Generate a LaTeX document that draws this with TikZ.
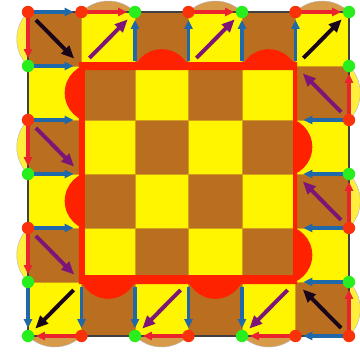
\documentclass[tikz,border=0pt]{standalone}
\usepackage{tikz}
\usetikzlibrary{positioning, arrows.meta, calc}

\definecolor{tilebrown}{RGB}{186,110,32}
\definecolor{tileyellow}{RGB}{255,245,0}
\definecolor{tileline}{RGB}{212,158,24}
\definecolor{bumptan}{RGB}{214,154,72}
\definecolor{bumpyellow}{RGB}{255,238,60}
\definecolor{framered}{RGB}{255,34,0}
\definecolor{dotred}{RGB}{250,50,10}
\definecolor{dotgreen}{RGB}{40,238,30}
\definecolor{edgeblue}{RGB}{31,104,170}
\definecolor{edgered}{RGB}{235,35,45}
\definecolor{diagpurple}{RGB}{125,20,120}
\definecolor{diagblack}{RGB}{25,5,25}

\begin{document}
\begin{tikzpicture}[
    x=1.3375cm, y=1.35cm,
    browntile/.style={fill=tilebrown, draw=tileline, line width=0.5pt},
    yellowtile/.style={fill=tileyellow, draw=tileline, line width=0.5pt},
    bump/.style={draw=gray!55, line width=0.3pt},
    edgeb/.style={draw=edgeblue, line width=2.2pt, -{Triangle[length=0.22cm, width=0.2cm]},
        shorten <=0.12cm, shorten >=0.2cm},
    edger/.style={edgeb, draw=edgered},
    diagp/.style={draw=diagpurple, line width=2.8pt, -{Triangle[length=0.32cm, width=0.27cm]},
        shorten <=0.28cm, shorten >=0.26cm},
    diagk/.style={diagp, draw=diagblack},
    dot/.style={circle, inner sep=0pt, minimum size=0.31cm},
    reddot/.style={dot, fill=dotred},
    greendot/.style={dot, fill=dotgreen}
]
\useasboundingbox (-0.7cm,-0.45cm) rectangle (8.3cm,8.4cm);

% grid points
\foreach \i in {0,...,6}
    \foreach \j in {0,...,6}
        \coordinate (p\i\j) at (\i,\j);

% 1. OUTER BUMPS
\foreach \i in {1,3,5} {
    \begin{scope}
        \clip (\i,6) rectangle (\i+1,7);
        \path[bump, fill=bumptan] (\i+0.5,5.5) circle (0.95cm);
    \end{scope}
}
\foreach \i in {0,2,4} {
    \begin{scope}
        \clip (\i,0) rectangle (\i+1,-1);
        \path[bump, fill=bumptan] (\i+0.5,0.5) circle (0.95cm);
    \end{scope}
}
\foreach \j in {1,3,5} {
    \begin{scope}
        \clip (0,\j) rectangle (-1,\j+1);
        \path[bump, fill=bumpyellow] (0.5,\j+0.5) circle (0.95cm);
    \end{scope}
}
\foreach \j in {0,2,4} {
    \begin{scope}
        \clip (6,\j) rectangle (7,\j+1);
        \path[bump, fill=bumpyellow] (5.5,\j+0.5) circle (0.95cm);
    \end{scope}
}

% 2. TILES
\foreach \i in {0,...,5}
    \foreach \j in {0,...,5} {
        \pgfmathtruncatemacro{\odd}{mod(\i+\j,2)}
        \ifnum\odd=1
            \path[browntile] (\i,\j) rectangle ++(1,1);
        \else
            \path[yellowtile] (\i,\j) rectangle ++(1,1);
        \fi
    }

% 3. RED FRAME WITH BUMPS
\foreach \i in {2,4} {
    \begin{scope}
        \clip (\i,5) rectangle (\i+1,6);
        \fill[framered] ([yshift=-0.32cm]\i+0.5,5) circle (0.74cm);
    \end{scope}
}
\foreach \i in {1,3} {
    \begin{scope}
        \clip (\i,0) rectangle (\i+1,1);
        \fill[framered] ([yshift=0.32cm]\i+0.5,1) circle (0.74cm);
    \end{scope}
}
\foreach \j in {2,4} {
    \begin{scope}
        \clip (0,\j) rectangle (1,\j+1);
        \fill[framered] ([xshift=0.32cm]1,\j+0.5) circle (0.74cm);
    \end{scope}
}
\foreach \j in {1,3} {
    \begin{scope}
        \clip (5,\j) rectangle (6,\j+1);
        \fill[framered] ([xshift=-0.32cm]5,\j+0.5) circle (0.74cm);
    \end{scope}
}
\fill[framered, even odd rule] (1.275cm,1.3cm) rectangle (6.725cm,6.85cm)
    (1.425cm,1.525cm) rectangle (6.625cm,6.65cm);

\draw[black!75, line width=0.9pt] (p00) rectangle (p66);

% 4. EDGE ARROWS
\foreach \a/\b in {p06/p16, p05/p15, p04/p14, p03/p13, p02/p12,
                   p01/p00, p11/p10, p21/p20, p31/p30, p41/p40,
                   p60/p50, p61/p51, p62/p52, p63/p53, p64/p54,
                   p25/p26, p35/p36, p45/p46, p55/p56}
    \draw[edgeb] (\a) -- (\b);
\foreach \a/\b in {p16/p26, p36/p46, p56/p66,
                   p06/p05, p04/p03, p02/p01,
                   p10/p00, p30/p20, p50/p40,
                   p60/p61, p62/p63, p64/p65}
    \draw[edger] (\a) -- (\b);

% 5. DIAGONAL ARROWS
\foreach \a/\b in {p15/p26, p35/p46, p04/p13, p02/p11,
                   p31/p20, p51/p40, p64/p55, p62/p53}
    \draw[diagp] (\a) -- (\b);
\foreach \a/\b in {p06/p15, p55/p66, p11/p00, p60/p51}
    \draw[diagk] (\a) -- (\b);

% 6. DOTS
\foreach \c in {06, 04, 02, 16, 36, 56, 64, 62, 60, 10, 30, 50}
    \node[reddot] (d\c) at (p\c) {};
\foreach \c in {05, 03, 01, 00, 26, 46, 66, 65, 63, 61, 20, 40}
    \node[greendot] (d\c) at (p\c) {};
\end{tikzpicture}
\end{document}
